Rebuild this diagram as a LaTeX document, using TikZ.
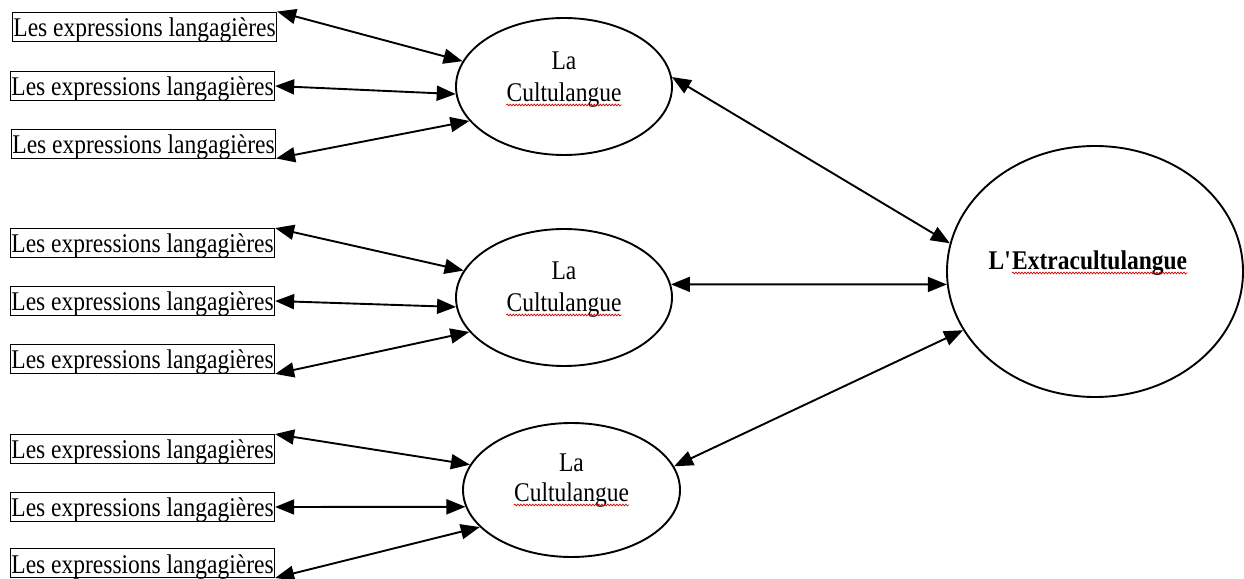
\documentclass[tikz,border=0pt]{standalone}
\usepackage{fontspec}
\setmainfont{Liberation Serif}[FakeStretch=0.87]
\usetikzlibrary{arrows.meta,shapes.geometric,decorations.pathmorphing}
\newcommand\diagfont{\fontsize{27}{31}\selectfont}
\tikzset{
    expr/.style={draw, line width=0.9pt, anchor=west, inner xsep=1pt, inner ysep=1pt, text height=23.5pt, text depth=3.5pt, font=\diagfont},
    cultu/.style={draw, ellipse, line width=1.9pt, inner sep=0pt, minimum width=216pt, minimum height=137pt},
    word/.style={anchor=base, inner sep=0pt, font=\diagfont},
    link/.style={{Triangle[length=19pt,width=15pt]}-{Triangle[length=19pt,width=15pt]}, line width=1.9pt},
    spellmark/.style={draw=red!80!black, line width=0.7pt, decorate, decoration={snake, amplitude=0.9pt, segment length=3pt}}
}
\begin{document}
\begin{tikzpicture}[x=1pt,y=1pt]
                \useasboundingbox (0,0) rectangle (1244,578);
                \node (e11) [expr] at (12,551.5) {Les expressions langagières};
                \node (e12) [expr] at (10,492) {Les expressions langagières};
                \node (e13) [expr] at (11,434.5) {Les expressions langagières};
                \node (e21) [expr] at (10,335) {Les expressions langagières};
                \node (e22) [expr] at (10,277) {Les expressions langagières};
                \node (e23) [expr] at (10,219) {Les expressions langagières};
                \node (e31) [expr] at (10,129) {Les expressions langagières};
                \node (e32) [expr] at (10,71) {Les expressions langagières};
                \node (e33) [expr] at (10,15) {Les expressions langagières};
                \node (c1) [cultu] at (564,491.5) {};
                \node (c2) [cultu] at (564,280.5) {};
                \node (c3) [cultu, minimum width=217pt, minimum height=134pt] at (571.5,88) {};
                \node (ext) [cultu, minimum width=296pt, minimum height=251pt] at (1095,306.5) {};
                \node (la1) [word] at (564,508) {La};
                \node (cu1) [word] at (564,476) {Cultulangue};
                \node (la2) [word] at (564,298) {La};
                \node (cu2) [word] at (564,266) {Cultulangue};
                \node (la3) [word] at (571.5,106) {La};
                \node (cu3) [word] at (571.5,76) {Cultulangue};
                \node (xl) [word, anchor=base east, font=\diagfont\bfseries] at (1012,308) {L\textquotesingle};
                \node (xw) [word, anchor=base west, font=\diagfont\bfseries] at (xl.base east) {Extracultulangue};
                \draw [spellmark] ([yshift=-3pt]cu1.base west) -- ([yshift=-3pt]cu1.base east);
                \draw [spellmark] ([yshift=-3pt]cu2.base west) -- ([yshift=-3pt]cu2.base east);
                \draw [spellmark] ([yshift=-3pt]cu3.base west) -- ([yshift=-3pt]cu3.base east);
                \draw [spellmark] ([yshift=-3pt]xw.base west) -- ([yshift=-3pt]xw.base east);
                \draw [link] (e11.north east) -- (c1.166);
                \draw [link] (e12.east) -- (c1.184);
                \draw [link] (e13.south east) -- (c1.200);
                \draw [link] (e21.north east) -- (c2.165);
                \draw [link] (e22.east) -- (c2.185);
                \draw [link] (e23.south east) -- (c2.200);
                \draw [link] (e31.north east) -- (c3.166);
                \draw [link] (e32.east) -- (c3.189);
                \draw [link] (e33.south east) -- (c3.202);
                \draw [link] (c1.5) -- (ext.169);
                \draw [link] (c2.7) -- (ext.185);
                \draw [link] (c3.13) -- (ext.204);
            \end{tikzpicture}
\end{document}
